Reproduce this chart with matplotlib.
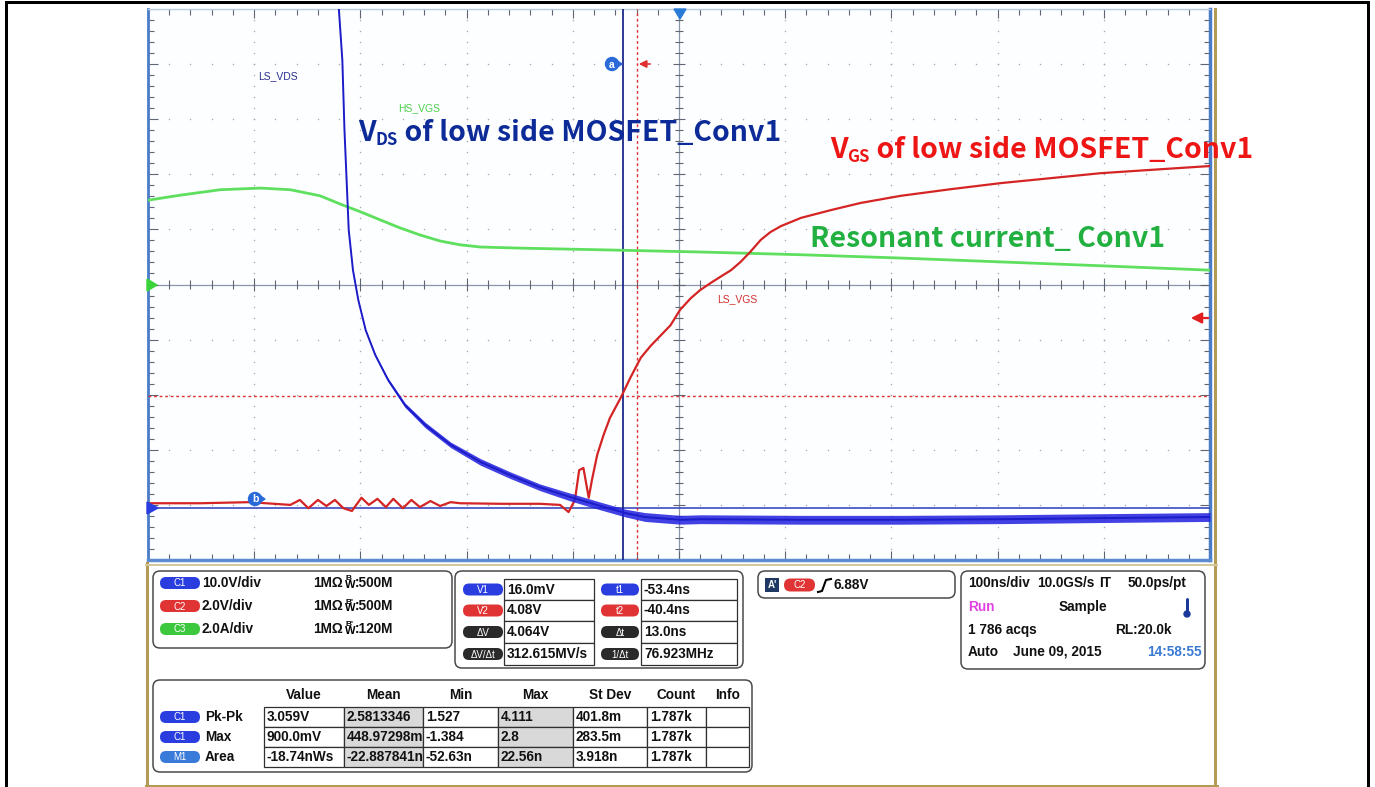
import numpy as np
import matplotlib
matplotlib.use("Agg")
import matplotlib.pyplot as plt
from matplotlib.patches import FancyBboxPatch, Rectangle, Circle, Polygon
from matplotlib.collections import LineCollection

plt.rcParams['font.family'] = ['Liberation Sans', 'DejaVu Sans']

# traces, in screen divisions (10 x 10 graticule, origin bottom-left)
blue_x = [1.79, 1.83, 1.85, 1.87, 1.89, 1.93, 1.98, 2.05, 2.14, 2.26, 2.42, 2.61, 2.85,
          3.13, 3.41, 3.69, 3.98, 4.26, 4.50, 4.68, 5.01, 5.20, 6.15, 7.09, 8.03, 8.97, 10.0]
blue_y = [10.2, 9.07, 7.80, 6.90, 5.99, 5.26, 4.72, 4.17, 3.72, 3.27, 2.81, 2.45, 2.09,
          1.78, 1.54, 1.32, 1.14, 0.98, 0.85, 0.78, 0.73, 0.74, 0.73, 0.73, 0.74, 0.76, 0.78]
blue_noise = [0.01, 0.01, 0.01, 0.01, 0.01, 0.01, 0.01, 0.01, 0.02, 0.03, 0.04, 0.05, 0.05,
              0.06, 0.06, 0.06, 0.07, 0.07, 0.07, 0.08, 0.08, 0.08, 0.08, 0.08, 0.08, 0.08, 0.08]

red_x = [0.00, 0.49, 0.96, 1.34, 1.43, 1.51, 1.60, 1.68, 1.76, 1.84, 1.92, 2.01, 2.08,
         2.16, 2.24, 2.31, 2.40, 2.48, 2.56, 2.66, 2.75, 2.85, 2.94, 3.32, 3.69, 3.88,
         3.96, 4.02, 4.06, 4.10, 4.15, 4.18, 4.23, 4.29, 4.35, 4.45, 4.54, 4.64, 4.73,
         4.83, 4.92, 5.01, 5.11, 5.20, 5.30, 5.39, 5.49, 5.58, 5.67, 5.77, 5.86, 5.96,
         6.15, 6.43, 6.71, 7.09, 7.56, 8.03, 8.50, 8.97, 9.44, 10.0]
red_y = [1.03, 1.03, 1.05, 1.00, 1.09, 0.94, 1.09, 0.98, 1.09, 0.94, 0.89, 1.13, 1.00,
         1.11, 0.96, 1.11, 0.94, 1.09, 0.96, 1.07, 0.98, 1.05, 1.03, 1.02, 1.02, 1.00,
         0.87, 1.09, 1.63, 1.67, 1.13, 1.45, 1.91, 2.27, 2.58, 2.94, 3.30, 3.67, 3.88,
         4.08, 4.26, 4.54, 4.75, 4.90, 5.03, 5.14, 5.26, 5.41, 5.59, 5.81, 5.95, 6.06,
         6.21, 6.35, 6.48, 6.61, 6.73, 6.84, 6.93, 7.02, 7.08, 7.15]

green_x = [0.00, 0.30, 0.68, 1.06, 1.34, 1.62, 1.81, 2.00, 2.19, 2.37, 2.56, 2.75, 2.94,
           3.13, 3.51, 4.26, 5.20, 6.15, 7.09, 8.03, 8.97, 10.0]
green_y = [6.53, 6.62, 6.72, 6.75, 6.72, 6.61, 6.46, 6.32, 6.17, 6.03, 5.90, 5.79, 5.72,
           5.68, 5.66, 5.63, 5.59, 5.54, 5.48, 5.41, 5.34, 5.26]

# cursors (divisions)
cursor_t = [4.47, 4.60]
cursor_v = [0.94, 2.98]

# readouts
ch_names = ['C1', 'C2', 'C3']
ch_scale = ['10.0V/div', '2.0V/div', '2.0A/div']
ch_bw = ['500M', '500M', '120M']

cur_left_lab = ['V1', 'V2', 'ΔV', 'ΔV/Δt']
cur_left_val = ['16.0mV', '4.08V', '4.064V', '312.615MV/s']
cur_right_lab = ['t1', 't2', 'Δt', '1/Δt']
cur_right_val = ['-53.4ns', '-40.4ns', '13.0ns', '76.923MHz']

meas_cols = ['Value', 'Mean', 'Min', 'Max', 'St Dev', 'Count', 'Info']
meas_src = ['C1', 'C1', 'M1']
meas_name = ['Pk-Pk', 'Max', 'Area']
meas_vals = [['3.059V', '2.5813346', '1.527', '4.111', '401.8m', '1.787k', ''],
             ['900.0mV', '448.97298m', '-1.384', '2.8', '283.5m', '1.787k', ''],
             ['-18.74nWs', '-22.887841n', '-52.63n', '22.56n', '3.918n', '1.787k', '']]

BLUE, RED, GREEN = '#2020e0', '#d42424', '#5ee05e'
PILL = {'C1': '#2a3ee0', 'C2': '#e03434', 'C3': '#3cc83c', 'M1': '#3a7ad8',
        'V1': '#2a3ee0', 't1': '#2a3ee0', 'V2': '#e03434', 't2': '#e03434', 'k': '#2a2a2a'}

fig = plt.figure(figsize=(13.75, 7.87), dpi=100)
fig.patch.set_facecolor('white')

# plot area: x 148..1210 px, y 9..560 px
ax = fig.add_axes([148 / 1375, (787 - 560) / 787, (1210 - 148) / 1375, (560 - 9) / 787])
ax.set_xlim(0, 10)
ax.set_ylim(0, 10)
ax.set_xticks([])
ax.set_yticks([])
ax.set_facecolor('#fdfeff')
ax.spines['left'].set(color='#4a7cc8', linewidth=2)
ax.spines['right'].set(color='#4a7cc8', linewidth=2.5)
ax.spines['bottom'].set(color='#5a8ccf', linewidth=2.5)
ax.spines['top'].set(color='#b8cce4', linewidth=1)

# graticule dots
minor = np.arange(0.2, 10, 0.2)
dx, dy = [], []
for k in range(1, 10):
    if k == 5:
        continue
    dx += [k] * len(minor)
    dy += list(minor)
    dx += list(minor)
    dy += [k] * len(minor)
ax.scatter(dx, dy, s=1.2, color='#a8aab0', linewidths=0, zorder=1)

# centre axes and edge ticks
ax.axhline(5, color='#8a96a8', lw=0.9, zorder=1)
ax.axvline(5, color='#8a96a8', lw=0.9, zorder=1)
segs = []
ticks = np.round(np.arange(0, 10.01, 0.2), 2)
for t in ticks:
    big = abs(t - round(t)) < 1e-6
    hx = 0.06 if big else 0.038
    hy = 0.11 if big else 0.073
    segs.append([(t, 5 - hy), (t, 5 + hy)])
    segs.append([(5 - hx, t), (5 + hx, t)])
    ex = 0.09 if big else 0.06
    ey = 0.16 if big else 0.11
    segs.append([(t, 10), (t, 10 - ey)])
    segs.append([(t, 0), (t, ey)])
    segs.append([(0, t), (ex, t)])
    segs.append([(10, t), (10 - ex, t)])
ax.add_collection(LineCollection(segs, colors='#5e6674', linewidths=0.8, zorder=2))

# cursors
ax.axhline(cursor_v[0], color='#3a4cc0', lw=1.2, zorder=3)
ax.axhline(cursor_v[1], color='#e03030', lw=1, ls=(0, (2, 2)), zorder=3)
ax.axvline(cursor_t[0], color='#1e2a8a', lw=1.3, zorder=3)
ax.axvline(cursor_t[1], color='#e03030', lw=1, ls=(0, (2, 2)), zorder=3)

# traces
ax.plot(green_x, green_y, color=GREEN, lw=2, zorder=4)
ax.plot(red_x, red_y, color=RED, lw=1.6, zorder=5)
bl = np.array(blue_y) - np.array(blue_noise)
bu = np.array(blue_y) + np.array(blue_noise)
ax.fill_between(blue_x, bl, bu, color=BLUE, lw=0, alpha=0.85, zorder=6)
ax.plot(blue_x, blue_y, color='#1c1cc8', lw=1.4, zorder=6)

# overlay in pixel coordinates
ov = fig.add_axes([0, 0, 1, 1])
ov.set_xlim(0, 1375)
ov.set_ylim(787, 0)
ov.axis('off')
ov.patch.set_alpha(0)

PX = 0.72  # points per pixel

# outer frame
ov.plot([6, 1368], [2, 2], color='black', lw=3 * PX)
ov.plot([6.5, 6.5], [2, 787], color='black', lw=3 * PX)
ov.plot([1368, 1368], [2, 787], color='black', lw=3 * PX)
# scope frame
ov.plot([1215.5, 1215.5], [9, 787], color='#b39b55', lw=3 * PX)
ov.plot([147, 147], [563, 787], color='#b39b55', lw=3 * PX)
ov.plot([146, 1217], [785.5, 785.5], color='#b39b55', lw=3 * PX)
ov.plot([146, 1217], [565, 565], color='#d6c79a', lw=2 * PX)

# channel / cursor markers
ov.add_patch(Polygon([[147, 279], [147, 291], [157, 285]], color='#3ad43a'))
ov.add_patch(Polygon([[147, 502], [147, 514], [158, 508]], color='#2a3ee0'))
ov.annotate('', xy=(1188, 318), xytext=(1211, 318),
            arrowprops=dict(arrowstyle='-|>', color='#e02020', lw=1.6, mutation_scale=16))
ov.add_patch(Polygon([[674, 9], [686, 9], [680, 19]], color='#2a7ad8'))
ov.annotate('', xy=(636, 64), xytext=(653, 64),
            arrowprops=dict(arrowstyle='-|>', color='#e03030', lw=1.2, mutation_scale=11))
for cx, cy, lab in [(612, 64, 'a'), (255, 499, 'b')]:
    ov.add_patch(Polygon([[cx + 4, cy - 4], [cx + 4, cy + 4], [cx + 10, cy]], color='#2a6ad8'))
    ov.add_patch(Circle((cx, cy), 6.5, color='#2a6ad8'))
    ov.text(cx, cy + 0.5, lab, color='white', fontsize=7.5, fontweight='bold',
            ha='center', va='center')

# trace labels
ov.text(258, 79, 'LS_VDS', color='#2b2f8f', fontsize=7.5)
ov.text(398, 111, 'HS_VGS', color='#4ed04e', fontsize=7.5)
ov.text(717, 302, 'LS_VGS', color='#d43030', fontsize=7.5)


def text_run(x, y, parts, color):
    r = fig.canvas.get_renderer()
    cur = x
    for s, size, off in parts:
        t = ov.text(cur, y + off, s, fontsize=size, color=color, fontweight='bold',
                    family=['Noto Sans CJK SC', 'DejaVu Sans'], ha='left', va='baseline')
        cur += t.get_window_extent(renderer=r).width


text_run(358, 141, [('V', 20.5, 0), ('DS', 12, 4), (' of low side MOSFET_Conv1', 20.5, 0)], '#0c2a98')
text_run(830, 158, [('V', 20.5, 0), ('GS', 12, 4), (' of low side MOSFET_Conv1', 20.5, 0)], '#ee1515')
ov.text(810, 247, 'Resonant current_ Conv1', fontsize=20.5, color='#22b040', fontweight='bold',
        family=['Noto Sans CJK SC', 'DejaVu Sans'], ha='left', va='baseline')


def box(x0, y0, x1, y1):
    ov.add_patch(FancyBboxPatch((x0, y0), x1 - x0, y1 - y0,
                                boxstyle='round,pad=0,rounding_size=7',
                                fc='white', ec='#4a4a4a', lw=1.1))


def pill(x0, yc, w, key, lab, h=12):
    ov.add_patch(FancyBboxPatch((x0, yc - h / 2), w, h,
                                boxstyle=f'round,pad=0,rounding_size={h / 2}',
                                fc=PILL.get(key, PILL['k']), ec='none'))
    ov.text(x0 + w / 2, yc + 0.5, lab, color='white', fontsize=7, ha='center', va='center')


def cell(x0, y0, x1, y1, fc='white'):
    ov.add_patch(Rectangle((x0, y0), x1 - x0, y1 - y0, fc=fc, ec='#303030', lw=0.9))


TXT = dict(fontsize=9.8, fontweight='bold', va='center', color='#111111')

# channel box
box(153, 571, 452, 648)
for i, (n, s, b) in enumerate(zip(ch_names, ch_scale, ch_bw)):
    yc = 583 + 23 * i
    pill(160, yc, 40, n, n)
    ov.text(202, yc, s, **TXT)
    ov.text(313, yc, '1MΩ', **TXT)
    ov.text(346, yc - 4, 'B' + ("'" if i else ''), fontsize=6, fontweight='bold', va='center')
    ov.text(345, yc + 2, 'W', fontsize=8, fontweight='bold', va='center')
    ov.text(355, yc, ':' + b, **TXT)

# cursor box
box(455, 571, 743, 668)
rows = [579, 600, 621, 643, 665]
for i in range(4):
    yc = (rows[i] + rows[i + 1]) / 2
    cell(504, rows[i], 594, rows[i + 1])
    cell(641, rows[i], 737, rows[i + 1])
    pill(463, yc, 40, cur_left_lab[i] if i < 2 else 'k', cur_left_lab[i])
    pill(601, yc, 38, cur_right_lab[i] if i < 2 else 'k', cur_right_lab[i])
    ov.text(507, yc, cur_left_val[i], **TXT)
    ov.text(644, yc, cur_right_val[i], **TXT)

# trigger box
box(758, 571, 955, 598)
ov.add_patch(Rectangle((765, 578), 14, 14, fc='#1f3864'))
ov.text(772, 585.5, "A'", color='white', fontsize=7, fontweight='bold', ha='center', va='center')
pill(784, 585, 31, 'C2', 'C2', h=13)
ov.plot([818, 822, 826, 831], [592, 591, 580, 579], color='black', lw=1.5)
ov.text(834, 585, '6.88V', **TXT)

# timebase box
box(961, 571, 1205, 669)
ov.text(968, 583, '100ns/div', **TXT)
ov.text(1037, 583, '10.0GS/s', **TXT)
ov.text(1099, 583, 'IT', **TXT)
ov.text(1128, 583, '50.0ps/pt', **TXT)
ov.text(968, 607, 'Run', **{**TXT, 'color': '#e040e0'})
ov.text(1059, 607, 'Sample', **TXT)
ov.plot([1187, 1187], [599, 612], color='#1a3a9a', lw=3 * PX, solid_capstyle='round')
ov.add_patch(Circle((1187, 614), 3, color='#1a3a9a'))
ov.text(968, 630, '1 786 acqs', **TXT)
ov.text(1115, 630, 'RL:20.0k', **TXT)
ov.text(968, 652, 'Auto', **TXT)
ov.text(1013, 652, 'June 09, 2015', **TXT)
ov.text(1147, 652, '14:58:55', **{**TXT, 'color': '#3a7ad5'})

# measurement box
box(153, 680, 752, 772)
col_edges = [264, 344, 423, 498, 573, 647, 706, 749]
row_edges = [707, 727, 747, 767]
for j, c in enumerate(meas_cols):
    ov.text((col_edges[j] + col_edges[j + 1]) / 2, 695, c, ha='center', **TXT)
for i in range(3):
    yc = (row_edges[i] + row_edges[i + 1]) / 2
    pill(160, yc, 40, meas_src[i], meas_src[i])
    ov.text(205, yc, meas_name[i], **TXT)
    for j in range(7):
        fc = '#d9d9d9' if j in (1, 3) else 'white'
        cell(col_edges[j], row_edges[i], col_edges[j + 1], row_edges[i + 1], fc)
        ov.text(col_edges[j] + 3, yc, meas_vals[i][j], **TXT)

fig.savefig('out.png', dpi=100)
